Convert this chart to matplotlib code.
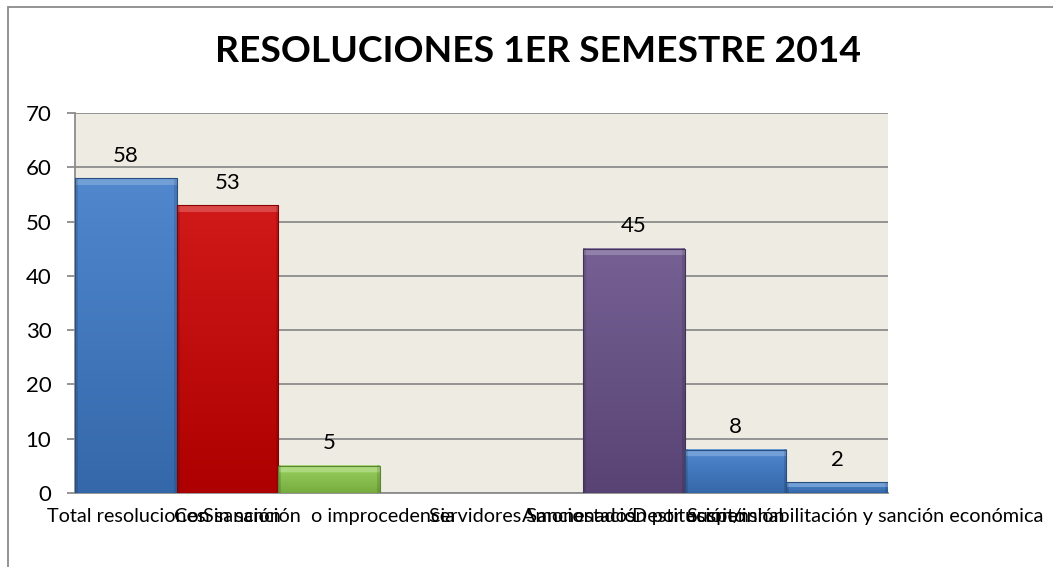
import numpy as np
import matplotlib
matplotlib.use("Agg")
import matplotlib.pyplot as plt
from matplotlib.patches import Rectangle
from matplotlib.colors import to_rgb

# ---- data ----
categories = [
    "Total resoluciones",
    "Con sanción",
    "Sin sanción  o improcedencia",
    "",
    "Servidores Sancionados",
    "Amonestación por escrito",
    "Suspensión",
    "Destitución/inhabilitación y sanción económica",
]
values = [58, 53, 5, np.nan, np.nan, 45, 8, 2]
bar_colors = ["#3D7AC8", "#CC0000", "#8DCB4C", "#3D7AC8", "#3D7AC8", "#674F88", "#3D7AC8", "#3D7AC8"]
title = "RESOLUCIONES 1ER SEMESTRE 2014"
yticks = [0, 10, 20, 30, 40, 50, 60, 70]

plt.rcParams['font.family'] = ['Lato', 'DejaVu Sans']

W, H, DPI = 1053, 567, 100
fig = plt.figure(figsize=(W / DPI, H / DPI), dpi=DPI)
fig.patch.set_facecolor("white")

# outer chart border (left and top visible)
fig.add_artist(Rectangle((8 / W, -0.1), 1.2, (H - 7) / H + 0.1, transform=fig.transFigure,
                         fill=False, edgecolor="#8A8A8A", linewidth=1.3))

ax = fig.add_axes([75 / W, 1 - 493 / H, (888 - 75) / W, (493 - 113) / H])
ax.set_facecolor("#EEECE2")

x = np.arange(len(categories))
bars = ax.bar(x, values, width=1.0, color=bar_colors, edgecolor="none", zorder=3)

ax.set_xlim(-0.5, len(categories) - 0.5)
ax.set_ylim(0, 70)
ax.set_yticks(yticks)
ax.yaxis.grid(True, color="#8C8C8C", linewidth=1.3, zorder=1)
ax.set_axisbelow(True)
for s in ["top", "right"]:
    ax.spines[s].set_visible(False)
ax.spines["left"].set_color("#8C8C8C")
ax.spines["left"].set_linewidth(1.3)
ax.spines["bottom"].set_color("#8C8C8C")
ax.spines["bottom"].set_linewidth(1.3)
ax.tick_params(axis="y", length=6, width=1.3, color="#8C8C8C", pad=11, labelsize=16, labelcolor="black")
ax.tick_params(axis="x", length=0, pad=11, labelsize=14.3, labelcolor="black")
ax.set_xticks(x)
ax.set_xticklabels(categories)

fig.text(0.511, 1 - 51 / H, title, ha="center", va="center", fontsize=26.8, fontweight="bold")

fig.canvas.draw()


def shade(c, f):
    r, g, b = to_rgb(c)
    if f >= 0:
        return (r + (1 - r) * f, g + (1 - g) * f, b + (1 - b) * f)
    return (r * (1 + f), g * (1 + f), b * (1 + f))


# gradient / bevel fill for each bar, clipped to the bar patch
for rect, col, v in zip(bars.patches, bar_colors, values):
    if not np.isfinite(v) or v <= 0:
        continue
    bb = rect.get_window_extent()
    nrows = max(int(round(bb.height)), 2)
    ncols = max(int(round(bb.width)), 2)
    img = np.zeros((nrows, ncols, 3))
    t = np.linspace(0, 1, nrows)[:, None]
    top = np.array(shade(col, 0.10))
    bot = np.array(shade(col, -0.15))
    base = top[None, None, :] * (1 - t[..., None]) + bot[None, None, :] * t[..., None]
    img[:] = base
    bev = min(7, nrows // 2)
    img[:bev, :, :] = np.array(shade(col, 0.28))
    img[:, :3, :] = img[:, :3, :] * 0.88
    img[:, -3:, :] = img[:, -3:, :] * 0.88
    x0, y0 = rect.get_x(), rect.get_y()
    ax.imshow(img, extent=(x0, x0 + rect.get_width(), y0, y0 + rect.get_height()),
              aspect="auto", zorder=4, clip_path=rect, clip_on=True, interpolation="bilinear")
    ax.add_patch(Rectangle((x0, y0), rect.get_width(), rect.get_height(), fill=False,
                           edgecolor=shade(col, -0.35), linewidth=0.8, zorder=5))
    ax.annotate(f"{int(v)}", (rect.get_x() + rect.get_width() / 2, v), xytext=(0, 9),
                textcoords="offset points", ha="center", va="bottom", fontsize=16, zorder=6)

ax.set_xlim(-0.5, len(categories) - 0.5)
ax.set_ylim(0, 70)

fig.savefig("out.png", dpi=DPI)
